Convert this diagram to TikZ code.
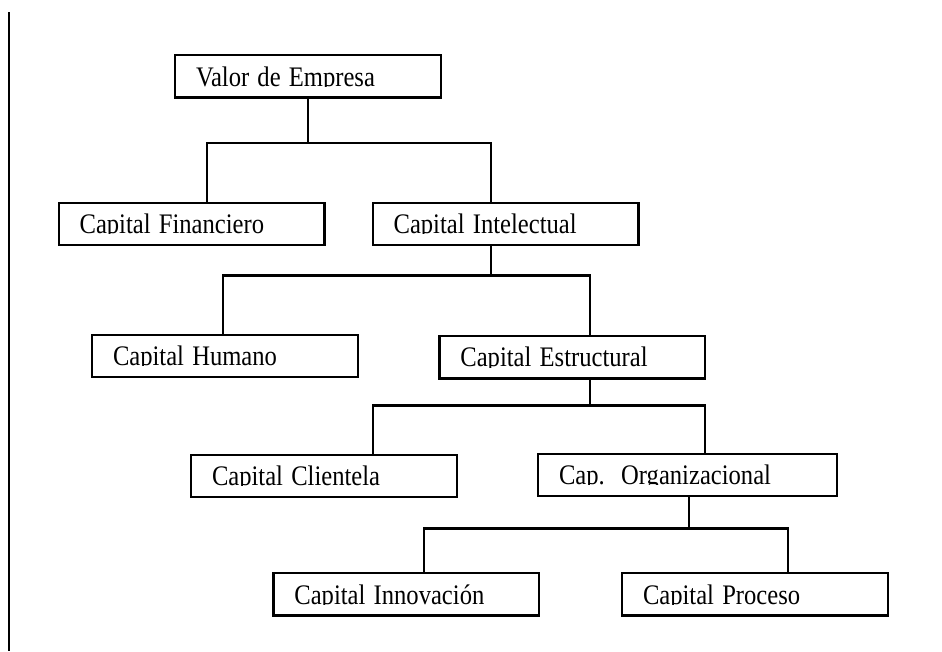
\documentclass[tikz,border=0pt]{standalone}
\usepackage{fontspec}
\setmainfont{Liberation Serif}
\usepackage{tikz}
\usetikzlibrary{positioning, calc}

\newcommand{\boxtext}[1]{\scalebox{1}[1.15]{#1}}

\tikzset{
  box/.style={draw, line width=1.7pt, text width=5.6cm, align=left, inner xsep=0.52cm,
    inner ysep=0pt, minimum height=1.06cm, text height=0.48cm, text depth=0pt},
  link/.style={line width=1.7pt}
}

\begin{document}
\begin{tikzpicture}[font=\fontsize{17.5}{21}\selectfont]
    \useasboundingbox (0,0) rectangle (23.55,-16.275);

    % left rule
    \draw[line width=1.8pt] (0.225,-0.3) -- (0.225,-16.275);

    % boxes
    \node[box] (VE) at (7.70,-1.91) {\boxtext{Valor de Empresa}};
    \node[box] (CF) at (4.79,-5.60) {\boxtext{Capital Financiero}};
    \node[box] (CI) at (12.64,-5.60) {\boxtext{Capital Intelectual}};
    \node[box] (CH) at (5.625,-8.90) {\boxtext{Capital Humano}};
    \node[box] (CE) at (14.31,-8.93) {\boxtext{Capital Estructural}};
    \node[box] (CC) at (8.10,-11.90) {\boxtext{Capital Clientela}};
    \node[box, text width=6.43cm] (CO) at (17.19,-11.875) {\boxtext{Cap.\ \ Organizacional}};
    \node[box] (CIn) at (10.16,-14.86) {\boxtext{Capital Innovación}};
    \node[box] (CP) at (18.875,-14.86) {\boxtext{Capital Proceso}};

    % cut the text off at its baseline
    \foreach \n in {VE,CF,CI,CH,CE,CC,CO,CIn,CP}
      \fill[white] ([shift={(0.07cm,0.07cm)}]\n.south west) rectangle ([xshift=-0.07cm,yshift=-0.6pt]\n.base east);

    % connectors
    \draw[link] (VE.south) -- ++(0,-1.1) coordinate (j1);
    \draw[link] ([xshift=0.39cm]CF.north) |- (j1) -| ([xshift=-0.36cm]CI.north);

    \draw[link] ([xshift=-0.36cm]CI.south) -- ++(0,-0.725) coordinate (j2);
    \draw[link] ([xshift=-0.05cm]CH.north) |- (j2) -| ([xshift=0.44cm]CE.north);

    \draw[link] ([xshift=0.44cm]CE.south) -- ++(0,-0.65) coordinate (j3);
    \draw[link] ([xshift=1.225cm]CC.north) |- (j3) -| ([xshift=0.435cm]CO.north);

    \draw[link] ([xshift=0.03cm]CO.south) -- ++(0,-0.775) coordinate (j4);
    \draw[link] ([xshift=0.44cm]CIn.north) |- (j4) -| ([xshift=0.825cm]CP.north);
\end{tikzpicture}
\end{document}
